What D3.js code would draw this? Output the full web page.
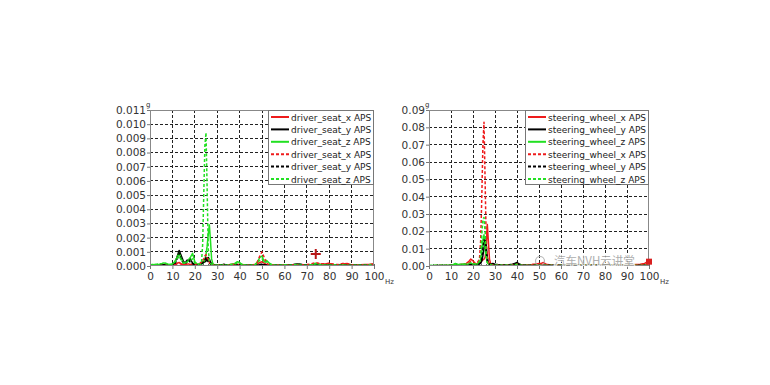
<!DOCTYPE html>
<html><head><meta charset="utf-8">
<script src="https://cdn.jsdelivr.net/npm/d3@7"></script>
<style>body{margin:0;background:#fff;} svg{display:block;}</style>
</head><body>
<svg id="c" width="770" height="385"></svg>
<script>
// shared frequency grid (Hz)
const freq = [0,1,2,3,4,5,6,7,8,9,10,11,12,13,14,15,16,17,18,19,20,
21,21.5,22,22.5,23,23.5,24,24.5,25,25.5,26,26.5,27,27.5,28,28.5,29,
30,31,32,33,34,35,36,37,38,39,40,41,42,43,44,45,46,47,48,49,50,51,52,53,54,55,56,
58,60,62,64,66,68,70,72,74,76,78,80,82,84,86,88,90,92,94,96,98,100];

// Left chart values, in units of 0.0001 g
const leftUnit = 0.0001;
const seatXSolid = [0.5,0.5,0.5,0.6,0.5,0.8,1,0.8,0.6,0.5,0.8,1.2,2,2.5,1.5,1,1.2,1.5,1,1.5,1.2,
 1,1,1.5,2,2.5,3,3,4,5,6,5,3,2,1.5,1,0.8,0.6,
 0.6,0.5,0.6,0.8,0.6,0.5,1,1.5,1.2,1,1,0.8,0.6,0.5,0.6,0.8,0.6,0.8,1.5,2.5,3,2,1,0.8,0.6,0.5,0.6,
 0.5,0.6,0.5,0.8,1,0.8,0.6,1,1.5,1.2,1.5,1.8,1,0.8,1.5,1.8,0.8,0.6,0.8,1,1.2,1.5];
const seatYSolid = [0.5,0.5,0.6,0.5,0.8,0.6,0.8,1,0.8,0.6,1,2,6,11,7,3,2,4,5,2,1,
 0.8,0.8,1,1,1.5,2,2.5,3,3.5,5,6,5,3,1.5,1,0.8,0.6,
 0.5,0.6,0.8,1.2,0.8,0.5,0.6,0.5,0.6,0.8,1,0.8,0.6,0.5,0.6,0.5,0.6,0.5,0.6,0.8,1,0.8,0.6,0.5,0.6,0.5,0.6,
 0.5,0.6,0.8,1,1.5,1,0.8,0.6,1,0.8,0.6,0.8,0.6,0.5,0.6,0.5,0.6,0.5,0.6,0.5,0.6,0.8];
const seatZSolid = [0.8,0.8,1,1,1.2,1.5,2.2,2,1.2,1,1.5,3,6,9,5,2,2.5,4,6,9,3,
 1.5,1,1,1.2,1.5,2,3,5,8,14,22,29,18,5,2,1,0.8,
 0.6,0.8,0.6,0.8,0.6,0.8,1,1.2,2,3,2.5,1.2,0.8,0.6,0.5,0.6,0.8,1,3,6,7,3,4,2.5,1.2,0.8,0.6,
 0.6,0.8,0.6,0.8,1,0.8,0.6,0.8,2,1,0.8,0.6,0.8,0.6,0.8,0.6,0.5,0.6,0.8,0.6,0.8,1];
const seatXDash = [0.5,0.5,0.5,0.5,0.6,0.5,0.6,0.8,0.6,0.5,0.6,1,1.5,2,1.2,0.8,1,1.2,0.8,1,1,
 1,1,1.5,2,3,4,5,7,8,6,4,2,1.5,1,0.8,0.6,0.5,
 0.5,0.6,0.5,0.6,0.5,0.6,0.8,1,0.8,0.6,0.8,0.6,0.5,0.6,0.5,0.6,0.8,1,3,7,10,6,2,1,0.8,0.6,0.5,
 0.6,0.5,0.6,0.8,0.6,0.8,1,1.5,2.5,1.5,1.5,2,1.2,1,1.8,1.5,0.8,0.6,0.8,0.6,1,1.2];
const seatYDash = [0.5,0.5,0.5,0.6,0.5,0.6,0.8,0.6,0.5,0.6,0.8,1.5,4,9,4,2,3,5,2.5,1.5,1,
 0.8,0.8,1,1.2,1.5,2,3,4,6,4,3,2,1.5,1,0.8,0.6,0.5,
 0.5,0.6,0.8,1,0.8,0.6,0.5,0.6,0.5,0.6,0.8,0.6,0.5,0.6,0.5,0.6,0.5,0.6,0.8,1,1.2,0.8,0.6,0.5,0.6,0.5,0.6,
 0.5,0.6,0.5,0.8,1.2,0.8,0.6,0.5,0.8,0.6,0.5,0.6,0.5,0.6,0.5,0.6,0.5,0.6,0.5,0.6,0.5,0.6];
const seatZDash = [0.8,1,1,1.2,1.5,1.5,2,1.8,1.2,1,1.2,2.5,5,7,4,2,2,3.5,4,5,2,
 1.2,1,1.5,2,3,15,50,85,94,55,12,4,2,1.2,1,0.8,0.6,
 0.6,0.8,0.6,0.8,0.6,0.8,1,1,1.5,2,2,1,0.8,0.6,0.5,0.6,0.8,1,2.5,4,5,2.5,3,2,1,0.8,0.6,
 0.6,0.8,0.6,0.8,0.8,0.6,0.6,0.8,1.5,0.8,0.6,0.6,0.8,0.6,0.6,0.6,0.5,0.6,0.6,0.6,0.8,0.8];

// Right chart values, in units of 0.001 g
const rightUnit = 0.001;
const wheelXSolid = [0.2,0.2,0.2,0.3,0.2,0.3,0.3,0.2,0.3,0.3,0.4,0.5,0.6,0.5,0.8,1,1.2,1.5,2.5,4,3,
 1.5,1.2,1.5,2,2,2.5,3,3.5,4,5,10,24,14,4,1.5,1,0.8,
 0.6,0.5,0.5,0.4,0.5,0.4,0.5,0.6,0.8,1,1.2,0.8,0.5,0.4,0.4,0.5,0.6,0.8,1,1.2,1.5,1.5,2,1.2,0.8,0.6,0.5,
 0.5,0.4,0.4,0.5,0.4,0.4,0.5,0.4,0.4,0.5,0.4,0.4,0.5,0.4,0.4,0.5,0.5,0.6,0.8,1,1.5,3];
const wheelYSolid = [0.2,0.2,0.2,0.2,0.3,0.2,0.3,0.3,0.2,0.3,0.3,0.4,0.5,0.4,0.5,0.6,0.5,0.6,0.8,1,0.8,
 0.6,0.6,0.8,1,1.2,1.5,3,6,10,15,12,5,2,1.2,1,1.2,1.5,
 1,0.8,0.6,0.5,0.6,0.5,0.6,0.8,1,1.5,2,1.2,0.6,0.5,0.4,0.3,0.4,0.3,0.4,0.5,0.4,0.3,0.4,0.3,0.3,0.4,0.3,
 0.3,0.3,0.3,0.3,0.3,0.3,0.3,0.3,0.3,0.3,0.3,0.3,0.3,0.3,0.3,0.3,0.3,0.3,0.3,0.3,0.3,0.4];
const wheelZSolid = [0.3,0.3,0.3,0.4,0.3,0.3,0.4,0.3,0.4,0.4,0.5,0.8,1.5,1,0.8,1,1.2,1,1.2,1.5,1.2,
 1,1,1.2,1.5,2,4,8,15,18,10,5,2,1.2,1,0.8,0.6,0.5,
 0.4,0.4,0.3,0.4,0.3,0.4,0.4,0.5,0.6,0.8,1,0.6,0.4,0.3,0.3,0.4,0.3,0.3,0.4,0.5,0.6,0.5,0.4,0.4,0.3,0.3,0.3,
 0.3,0.3,0.3,0.3,0.3,0.3,0.3,0.3,0.3,0.3,0.3,0.3,0.3,0.3,0.3,0.3,0.3,0.3,0.3,0.3,0.4,0.5];
const wheelXDash = [0.2,0.2,0.2,0.2,0.3,0.2,0.3,0.2,0.3,0.3,0.3,0.4,0.5,0.4,0.5,0.6,0.8,1,1.5,2.5,2,
 1.5,1.5,2,3,5,15,40,70,83,50,15,5,2,1.2,1,0.8,0.6,
 0.5,0.4,0.4,0.3,0.4,0.3,0.4,0.5,0.6,0.8,1,0.6,0.4,0.3,0.3,0.4,0.5,0.8,1,1.2,1,0.8,0.6,0.5,0.4,0.4,0.3,
 0.3,0.3,0.3,0.3,0.3,0.3,0.3,0.3,0.3,0.3,0.3,0.3,0.3,0.3,0.3,0.3,0.3,0.4,0.5,0.6,0.8,1.5];
const wheelYDash = [0.2,0.2,0.2,0.2,0.2,0.3,0.2,0.3,0.2,0.3,0.3,0.3,0.4,0.3,0.4,0.5,0.4,0.5,0.6,0.8,0.6,
 0.5,0.6,0.8,1,1.5,2,4,10,15,14,8,3,1.5,1,0.8,0.8,0.6,
 0.5,0.4,0.4,0.3,0.4,0.3,0.4,0.5,0.8,1.2,1.5,0.8,0.4,0.3,0.3,0.3,0.3,0.3,0.3,0.3,0.3,0.3,0.3,0.3,0.3,0.3,0.3,
 0.3,0.3,0.3,0.3,0.3,0.3,0.3,0.3,0.3,0.3,0.3,0.3,0.3,0.3,0.3,0.3,0.3,0.3,0.3,0.3,0.3,0.3];
const wheelZDash = [0.3,0.3,0.3,0.3,0.4,0.3,0.4,0.3,0.4,0.5,0.5,0.8,1.2,1,0.8,0.8,1,1.2,1.5,1.8,1.5,
 1.2,1.2,1.5,2,3,6,18,27,28,20,7,2,1.2,1,0.8,0.6,0.5,
 0.4,0.4,0.3,0.4,0.3,0.4,0.4,0.5,0.6,0.8,0.8,0.5,0.4,0.3,0.3,0.3,0.3,0.3,0.3,0.4,0.4,0.3,0.3,0.3,0.3,0.3,0.3,
 0.3,0.3,0.3,0.3,0.3,0.3,0.3,0.3,0.3,0.3,0.3,0.3,0.3,0.3,0.3,0.3,0.3,0.3,0.3,0.3,0.3,0.3];

const leftNames = ["driver_seat_x APS","driver_seat_y APS","driver_seat_z APS","driver_seat_x APS","driver_seat_y APS","driver_seat_z APS"];
const rightNames = ["steering_wheel_x APS","steering_wheel_y APS","steering_wheel_z APS","steering_wheel_x APS","steering_wheel_y APS","steering_wheel_z APS"];
const xTicks = [0,10,20,30,40,50,60,70,80,90,100];
const leftYTicks = [0,0.001,0.002,0.003,0.004,0.005,0.006,0.007,0.008,0.009,0.010,0.011];
const rightYTicks = [0,0.01,0.02,0.03,0.04,0.05,0.06,0.07,0.08,0.09];
// cursor markers [freq, value]
const leftMarker = [74, 0.00085];
const rightMarker = [100, 0.0025];

const colors = ["#ee1c1c","#000000","#22e022","#ee1c1c","#000000","#22e022"];
const dashed = [false,false,false,true,true,true];

const svg = d3.select("#c");
const FONT = "DejaVu Sans, Verdana, sans-serif";

function chart(o){
  const g = svg.append("g");
  const x = d3.scaleLinear().domain([0,100]).range([o.x0,o.x1]);
  const y = d3.scaleLinear().domain([0,o.ymax]).range([o.y1,o.y0]);
  const cid = "clip"+o.id;
  svg.append("clipPath").attr("id",cid).append("rect")
    .attr("x",o.x0).attr("y",o.y0).attr("width",o.x1-o.x0).attr("height",o.y1-o.y0);
  // grid
  g.append("g").selectAll("line").data(xTicks.slice(1,-1)).join("line")
    .attr("x1",d=>x(d)).attr("x2",d=>x(d)).attr("y1",o.y0).attr("y2",o.y1)
    .attr("stroke","#222").attr("stroke-width",1).attr("stroke-dasharray","3,2").attr("shape-rendering","crispEdges");
  g.append("g").selectAll("line").data(o.yTicks.slice(1,-1)).join("line")
    .attr("y1",d=>y(d)).attr("y2",d=>y(d)).attr("x1",o.x0).attr("x2",o.x1)
    .attr("stroke","#222").attr("stroke-width",1).attr("stroke-dasharray","3,2").attr("shape-rendering","crispEdges");
  // minor ticks along bottom (inside)
  g.append("g").selectAll("line").data(x.ticks(50)).join("line")
    .attr("x1",d=>x(d)).attr("x2",d=>x(d)).attr("y1",o.y1).attr("y2",o.y1-2)
    .attr("stroke","#666").attr("stroke-width",1).attr("shape-rendering","crispEdges");
  // axes
  const ax = d3.axisBottom(x).tickValues(xTicks).tickSize(3).tickPadding(4).tickFormat(d3.format("d"));
  const ay = d3.axisLeft(y).tickValues(o.yTicks).tickSize(3).tickPadding(1).tickFormat(d3.format(o.fmt));
  const gx = g.append("g").attr("transform",`translate(0,${o.y1})`).call(ax);
  const gy = g.append("g").attr("transform",`translate(${o.x0},0)`).call(ay);
  [gx,gy].forEach(a=>{
    a.select(".domain").remove();
    a.selectAll(".tick line").attr("stroke","#777");
    a.selectAll("text").attr("font-family",FONT).attr("font-size",10.5).attr("fill","#333");
  });
  // series
  const line = d3.line().x((d,i)=>x(freq[i])).y(d=>y(d*o.unit));
  const sg = g.append("g").attr("clip-path",`url(#${cid})`);
  o.series.forEach((s,i)=>{
    sg.append("path").datum(s).attr("d",line).attr("fill","none")
      .attr("stroke",colors[i]).attr("stroke-width",1.5)
      .attr("stroke-dasharray",dashed[i]?"3,2":null).attr("stroke-linejoin","round");
  });
  // border
  g.append("rect").attr("x",o.x0+0.5).attr("y",o.y0+0.5).attr("width",o.x1-o.x0-1).attr("height",o.y1-o.y0-1)
    .attr("fill","none").attr("stroke","#888").attr("stroke-width",1);
  // units
  g.append("text").attr("x",o.x0-4).attr("y",o.y0-3).text("g")
    .attr("font-family",FONT).attr("font-size",7).attr("fill","#333");
  g.append("text").attr("x",o.x1+11).attr("y",o.y1+18).text("Hz")
    .attr("font-family",FONT).attr("font-size",7).attr("fill","#333");
  // legend
  const lg = g.append("g");
  lg.append("rect").attr("x",o.lx+0.5).attr("y",o.y0+0.5).attr("width",o.x1-o.lx-1).attr("height",74)
    .attr("fill","#fff").attr("stroke","#777");
  o.names.forEach((n,i)=>{
    const yy = o.y0+7+i*12.4;
    lg.append("line").attr("x1",o.lx+3).attr("x2",o.lx+21).attr("y1",yy).attr("y2",yy)
      .attr("stroke",colors[i]).attr("stroke-width",2).attr("stroke-dasharray",dashed[i]?"3,2":null);
    lg.append("text").attr("x",o.lx+23).attr("y",yy+3.5).text(n)
      .attr("font-family",FONT).attr("font-size",9).attr("fill","#222");
  });
  return {g,x,y};
}

const L = chart({id:"L",x0:150,x1:374,y0:110,y1:266,ymax:0.011,yTicks:leftYTicks,fmt:".3f",unit:leftUnit,
  series:[seatXSolid,seatYSolid,seatZSolid,seatXDash,seatYDash,seatZDash],names:leftNames,lx:268});
const R = chart({id:"R",x0:429,x1:649,y0:110,y1:266,ymax:0.09,yTicks:rightYTicks,fmt:".2f",unit:rightUnit,
  series:[wheelXSolid,wheelYSolid,wheelZSolid,wheelXDash,wheelYDash,wheelZDash],names:rightNames,lx:525});

// cursor markers
{
  const cx = L.x(leftMarker[0]), cy = L.y(leftMarker[1]);
  L.g.append("path").attr("d",`M${cx-5},${cy}H${cx+5}M${cx},${cy-5}V${cy+5}`)
    .attr("stroke","#b81818").attr("stroke-width",2).attr("fill","none");
  const rx = R.x(rightMarker[0]), ry = R.y(rightMarker[1]);
  R.g.append("rect").attr("x",rx-3).attr("y",ry-3).attr("width",6).attr("height",6).attr("fill","#d82020");
}

// watermark
const wm = svg.append("g").attr("opacity",0.85);
wm.append("circle").attr("cx",540).attr("cy",261).attr("r",4.5).attr("fill","none").attr("stroke","#aaa").attr("stroke-width",1.2);
wm.append("text").attr("x",554).attr("y",265).text("汽车NVH云讲堂")
  .attr("font-family","Noto Sans CJK SC, sans-serif").attr("font-size",11.5)
  .attr("fill","#a0a0a0").attr("stroke","#fff").attr("stroke-width",2).attr("paint-order","stroke");
</script>
</body></html>
